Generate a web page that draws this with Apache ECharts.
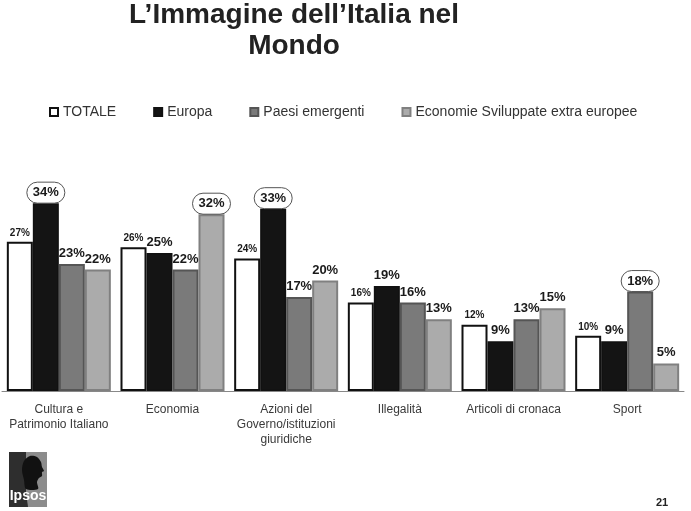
<!DOCTYPE html>
<html>
<head>
<meta charset="utf-8">
<script src="https://cdn.jsdelivr.net/npm/echarts@6/dist/echarts.min.js"></script>
<style>
  html, body { margin: 0; padding: 0; background: #fff; }
  #main { width: 691px; height: 511px; }
</style>
</head>
<body>
<div id="main"></div>
<script>
var categories = ['Cultura e\nPatrimonio Italiano', 'Economia', 'Azioni del\nGoverno/istituzioni\ngiuridiche', 'Illegalità', 'Articoli di cronaca', 'Sport'];
var seriesNames = ['TOTALE', 'Europa', 'Paesi emergenti', 'Economie Sviluppate extra europee'];
var totale = [27, 26, 24, 16, 12, 10];
var europa = [34, 25, 33, 19, 9, 9];
var paesiEmergenti = [23, 22, 17, 16, 13, 18];
var economieSviluppate = [22, 32, 20, 13, 15, 5];
// circled values: [series index, category index]
var circled = [[1, 0], [3, 1], [1, 2], [2, 5]];

var chart = echarts.init(document.getElementById('main'));
var font = "'Liberation Sans', Arial, sans-serif";

var styles = [
  { color: '#ffffff', borderColor: '#111111', borderWidth: 2 },
  { color: '#141414', borderColor: '#111111', borderWidth: 1.5 },
  { color: '#7a7a7a', borderColor: '#555555', borderWidth: 2 },
  { color: '#ababab', borderColor: '#808080', borderWidth: 2 }
];
var values = [totale, europa, paesiEmergenti, economieSviluppate];

function isCircled(s, i) {
  for (var k = 0; k < circled.length; k++) {
    if (circled[k][0] === s && circled[k][1] === i) return true;
  }
  return false;
}

var series = values.map(function (vals, s) {
  return {
    name: seriesNames[s],
    type: 'bar',
    barWidth: 26,
    barGap: '0%',
    itemStyle: styles[s],
    data: vals.map(function (v, i) {
      var item = { value: v };
      if (isCircled(s, i)) {
        item.label = {
          distance: 0,
          padding: [4, 6, 4, 6],
          borderColor: '#555',
          borderWidth: 1,
          borderRadius: 12
        };
      }
      return item;
    }),
    label: {
      show: true,
      position: 'top',
      distance: 4,
      formatter: '{c}%',
      fontFamily: font,
      fontWeight: 'bold',
      fontSize: s === 0 ? 10 : 13,
      color: '#1a1a1a'
    }
  };
});

var option = {
  animation: false,
  backgroundColor: '#fff',
  legend: {
    data: seriesNames,
    left: 44,
    top: 100,
    itemWidth: 8,
    itemHeight: 8,
    itemGap: 37,
    icon: 'rect',
    textStyle: { fontFamily: font, fontSize: 14, color: '#333' }
  },
  grid: { left: 2, right: 7, top: 170, bottom: 120 },
  xAxis: {
    type: 'category',
    data: categories,
    axisTick: { show: false },
    axisLine: { lineStyle: { color: '#888', width: 1 } },
    axisLabel: {
      interval: 0,
      margin: 11,
      fontFamily: font,
      fontSize: 12,
      lineHeight: 15,
      color: '#3a3a3a'
    }
  },
  yAxis: {
    type: 'value',
    min: 0,
    max: 40,
    show: false
  },
  series: series,
  graphic: [
    {
      type: 'text',
      x: 294,
      y: 0,
      style: {
        text: 'L’Immagine dell’Italia nel\nMondo',
        textAlign: 'center',
        font: 'bold 28px ' + font,
        lineHeight: 31,
        fill: '#222'
      }
    },
    {
      type: 'group',
      x: 9,
      y: 452,
      children: [
        { type: 'rect', shape: { x: 0, y: 0, width: 38, height: 55 }, style: { fill: '#2e2e2e' } },
        { type: 'polygon', shape: { points: [[17, 0], [38, 0], [38, 55], [19, 55], [17, 40]] }, style: { fill: '#8c8c8c' } },
        { type: 'polygon', shape: { smooth: 0.3, points: [[17, 37], [15, 28], [13, 18], [15, 9], [21, 4], [28, 5], [32, 10], [33, 15], [35, 19], [33, 20], [33, 24], [30, 26], [28, 30], [29, 37]] }, style: { fill: '#111' } },
        { type: 'text', x: 19, y: 37, style: { text: 'Ipsos', textAlign: 'center', font: 'bold 14px ' + font, fill: '#fff' } }
      ]
    },
    {
      type: 'text',
      x: 656,
      y: 497,
      style: { text: '21', font: 'bold 11px ' + font, fill: '#222' }
    }
  ]
};

chart.setOption(option);
</script>
</body>
</html>
